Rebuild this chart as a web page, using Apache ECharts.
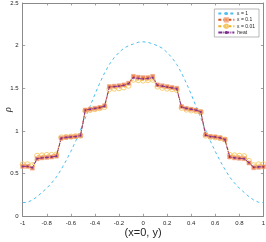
<!DOCTYPE html>
<html><head><meta charset="utf-8">
<script src="https://cdn.jsdelivr.net/npm/echarts@6/dist/echarts.min.js"></script>
<style>html,body{margin:0;padding:0;background:#fff}#c{width:266px;height:242px}</style>
</head><body><div id="c"></div>
<script>
// x positions (y-coordinate along line x=0), 51 points
const xs = [-1,-0.96,-0.92,-0.88,-0.84,-0.8,-0.76,-0.72,-0.68,-0.64,-0.6,-0.56,-0.52,-0.48,-0.44,-0.4,-0.36,-0.32,-0.28,-0.24,-0.2,-0.16,-0.12,-0.08,-0.04,0,0.04,0.08,0.12,0.16,0.2,0.24,0.28,0.32,0.36,0.4,0.44,0.48,0.52,0.56,0.6,0.64,0.68,0.72,0.76,0.8,0.84,0.88,0.92,0.96,1];
const eps1 = [0.16,0.165,0.19,0.23,0.28,0.33,0.39,0.46,0.55,0.65,0.76,0.88,1.01,1.15,1.29,1.43,1.56,1.68,1.78,1.86,1.92,1.97,2.0,2.02,2.04,2.045,2.04,2.02,2.0,1.97,1.92,1.86,1.78,1.68,1.56,1.43,1.29,1.15,1.01,0.88,0.76,0.65,0.55,0.46,0.39,0.33,0.28,0.23,0.19,0.165,0.16];
const eps01 = [0.585,0.585,0.565,0.675,0.685,0.69,0.695,0.705,0.915,0.925,0.93,0.935,0.945,1.245,1.255,1.265,1.275,1.295,1.52,1.525,1.53,1.54,1.56,1.64,1.63,1.625,1.625,1.64,1.54,1.53,1.52,1.51,1.5,1.285,1.265,1.255,1.245,1.225,0.955,0.935,0.93,0.92,0.9,0.695,0.685,0.68,0.675,0.625,0.57,0.575,0.58];
const eps001 = [0.61,0.61,0.6,0.71,0.715,0.72,0.72,0.725,0.925,0.93,0.935,0.94,0.945,1.235,1.245,1.255,1.265,1.28,1.49,1.495,1.5,1.51,1.53,1.6,1.595,1.59,1.595,1.6,1.52,1.505,1.495,1.49,1.48,1.27,1.25,1.24,1.235,1.22,0.945,0.93,0.925,0.915,0.9,0.72,0.715,0.71,0.705,0.65,0.6,0.61,0.61];
const heat = [0.585,0.585,0.57,0.675,0.685,0.69,0.695,0.705,0.915,0.925,0.93,0.935,0.945,1.245,1.255,1.265,1.275,1.29,1.515,1.52,1.525,1.535,1.555,1.625,1.615,1.61,1.615,1.625,1.535,1.525,1.515,1.505,1.495,1.28,1.265,1.255,1.245,1.225,0.95,0.935,0.93,0.92,0.9,0.695,0.685,0.68,0.675,0.63,0.575,0.58,0.58];
const xTicks = [-1,-0.8,-0.6,-0.4,-0.2,0,0.2,0.4,0.6,0.8,1];
const yTicks = [0,0.5,1,1.5,2,2.5];
const names = ['\u03b5 = 1','\u03b5 = 0.1','\u03b5 = 0.01','heat'];

const pairs = arr => xs.map((x,i)=>[x,arr[i]]);
const fmtX = v => { const t = xTicks.find(a=>Math.abs(a-v)<1e-6); return t===undefined?'':String(t); };
const fmtY = v => { const t = yTicks.find(a=>Math.abs(a-v)<1e-6); return t===undefined?'':String(t); };
const axisCol = '#8a8a8a', txtCol = '#262626';
const baseX = {type:'value',min:-1,max:1,interval:0.2,
  axisLine:{onZero:false,lineStyle:{color:axisCol,width:1}},
  axisTick:{inside:true,length:2.5,lineStyle:{color:axisCol,width:0.8}},
  splitLine:{show:false}};
const baseY = {type:'value',min:0,max:2.5,interval:0.5,
  axisLine:{show:true,onZero:false,lineStyle:{color:axisCol,width:1}},
  axisTick:{show:true,inside:true,length:2.5,lineStyle:{color:axisCol,width:0.8}},
  splitLine:{show:false}};
const chart = echarts.init(document.getElementById('c'),null,{renderer:'canvas'});
chart.setOption({
  animation:false,
  backgroundColor:'#fff',
  grid:{left:22.7,right:2.6,top:3,bottom:25.7,containLabel:false,outerBoundsMode:'none'},
  xAxis:[
    Object.assign({},baseX,{position:'bottom',
      axisLabel:{formatter:fmtX,fontSize:6,color:txtCol,margin:4,fontFamily:'Liberation Sans'},
      name:'(x=0, y)',nameLocation:'middle',nameGap:11,nameMoveOverlap:false,
      nameTextStyle:{fontSize:11,color:txtCol,fontFamily:'Liberation Sans',verticalAlign:'top'}}),
    Object.assign({},baseX,{position:'top',axisLabel:{show:false}})
  ],
  yAxis:[
    Object.assign({},baseY,{position:'left',
      axisLabel:{formatter:fmtY,fontSize:6,color:txtCol,margin:4,fontFamily:'Liberation Sans'},
      name:'\u03c1',nameLocation:'middle',nameGap:9,nameRotate:90,nameMoveOverlap:false,
      nameTextStyle:{fontSize:10,color:txtCol,fontStyle:'italic',fontFamily:'Liberation Serif'}}),
    Object.assign({},baseY,{position:'right',axisLabel:{show:false}})
  ],
  legend:{orient:'vertical',right:7,top:9,itemWidth:16,itemHeight:4,itemGap:1.2,
    padding:[2,4,2,3],borderColor:'#8a8a8a',borderWidth:0.6,backgroundColor:'#fff',
    textStyle:{fontSize:5,lineHeight:5,color:txtCol,padding:[0,0,0,-2]},data:names},
  series:[
    {name:names[0],type:'line',data:pairs(eps1),showSymbol:false,symbol:'none',
      lineStyle:{color:'#4DBEEE',width:1,type:[3,3]},itemStyle:{color:'#4DBEEE'},z:2},
    {name:names[2],type:'line',data:pairs(eps001),symbol:'circle',symbolSize:5,showSymbol:true,showAllSymbol:true,
      lineStyle:{color:'#EDB120',width:0.8,type:[3,2]},
      itemStyle:{color:'rgba(255,255,255,0)',borderColor:'#F4C865',borderWidth:0.9},z:3},
    {name:names[1],type:'line',data:pairs(eps01),symbol:'rect',symbolSize:4,showSymbol:true,showAllSymbol:true,
      lineStyle:{color:'#D95319',width:0.8,type:[3,2]},
      itemStyle:{color:'rgba(232,110,60,0.8)',borderColor:'rgba(242,170,130,0.9)',borderWidth:0.6},z:4},
    {name:names[3],type:'line',data:pairs(heat),symbol:'circle',symbolSize:1.8,showSymbol:true,showAllSymbol:true,
      lineStyle:{color:'#7E2F8E',width:0.9,type:[4,1,1,1]},
      itemStyle:{color:'#7E2F8E'},z:5}
  ]
});
</script></body></html>
